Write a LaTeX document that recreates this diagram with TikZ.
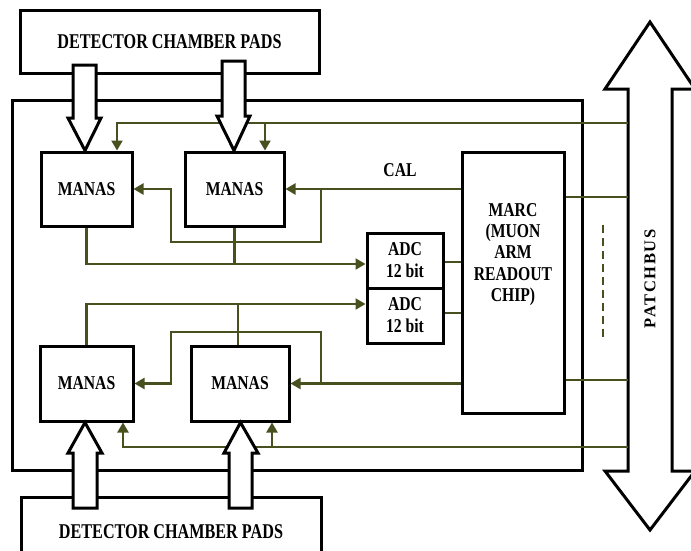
\documentclass[tikz,border=0pt]{standalone}
\usepackage{fontspec}
\setmainfont{Liberation Serif}
\newfontfamily\labfam[FakeStretch=0.8]{Liberation Serif}
\newfontfamily\detfam[FakeStretch=0.77]{Liberation Serif}
\newfontfamily\pbfam[LetterSpace=10]{Liberation Serif}
\usetikzlibrary{arrows.meta,calc}
\definecolor{sigc}{RGB}{72,80,32}
\tikzset{
  box/.style={draw=black, line width=3pt, inner sep=0pt, align=center,
    font=\labfam\bfseries\fontsize{19.6}{22}\selectfont},
  txt/.style={inner sep=0pt, align=center, font=\labfam\bfseries\fontsize{19.6}{21.3}\selectfont},
  sig/.style={draw=sigc, line width=2.2pt},
  sigarr/.style={sig, -{Triangle[length=10pt,width=11pt]}},
  fat/.style={draw=black, line width=3pt, fill=white, line join=miter},
}
\begin{document}
\begin{tikzpicture}[x=1pt,y=-1pt]
\useasboundingbox (0,0) rectangle (691,550);
\fill[white] (0,0) rectangle (691,550);

% main frame
\node[box, minimum width=570pt, minimum height=370pt] (frame) at (297,285) {};

% boxes
\node[box, minimum width=91pt, minimum height=74pt] (m1) at (86.5,189) {MANAS};
\node[box, minimum width=99pt, minimum height=74pt] (m2) at (234.5,189) {MANAS};
\node[box, minimum width=93pt, minimum height=75pt] (m3) at (86.5,383.5) {MANAS};
\node[box, minimum width=98pt, minimum height=75pt] (m4) at (240,383.5) {MANAS};
\node[box, minimum width=76pt, minimum height=55pt] (adc1) at (405,260.5) {ADC\\12 bit};
\node[box, minimum width=76pt, minimum height=55pt] (adc2) at (405,315.5) {ADC\\12 bit};
\node[box, minimum width=102pt, minimum height=261pt] (marc) at (513,282.5) {};
\node[txt] (marctxt) at (513,254.5) {MARC\\(MUON\\ARM\\READOUT\\CHIP)};
\node[txt] (cal) at (400,170.5) {CAL};

% patchbus
\coordinate (pbT) at (650,22);
\coordinate (pbB) at (650,530);
\draw[fat] (628,471) -- (628,89) -- (605,89) -- (pbT) -- (695,89) -- (672,89)
  -- (672,471) -- (695,471) -- (pbB) -- (605,471) -- cycle;
\node[rotate=90, inner sep=0pt, font=\pbfam\bfseries\fontsize{16.5}{18}\selectfont] (pb) at (650,279) {PATCHBUS};

% top bus
\coordinate (tb) at (628,123);
\coordinate (t1) at ($(m1.north)+(30.5,0)$);
\coordinate (t2) at ($(m2.north)+(30.5,0)$);
\draw[sigarr] (tb) -| (t1);
\draw[sigarr] (t2 |- tb) -- (t2);

% CAL lines
\coordinate (cj) at (321,189);
\coordinate (cl) at (171,242);
\draw[sigarr] (marc.west |- m2.east) -- (m2.east);
\draw[sigarr] (cj) |- (cl) |- (m1.east);

% MANAS outputs to ADC1
\coordinate (a1in) at ($(adc1.west)+(0,3.5)$);
\draw[sigarr] (m1.south) |- (a1in);
\draw[sig] (m2.south) -- (m2.south |- a1in);

% lower MANAS outputs to ADC2
\coordinate (a2in) at ($(adc2.west)+(0,-11.5)$);
\coordinate (m4t) at ($(m4.north)+(-2,0)$);
\draw[sigarr] (m3.north) |- (a2in);
\draw[sig] (m4t) -- (m4t |- a2in);

% lower CAL lines
\coordinate (lj) at (321,383.5);
\coordinate (ll) at (171,332);
\draw[sigarr] (marc.west |- m4.east) -- (m4.east);
\draw[sigarr] (lj) |- (ll) |- (m3.east);

% bottom bus
\coordinate (bb) at (628,447);
\coordinate (b1) at ($(m3.south)+(36.5,0)$);
\coordinate (b2) at ($(m4.south)+(32,0)$);
\draw[sigarr] (bb) -| (b1);
\draw[sigarr] (b2 |- bb) -- (b2);

% ADC to MARC
\draw[sig] ($(adc1.east)+(0,1.5)$) -- ($(adc1.east -| marc.west)+(0,1.5)$);
\draw[sig] ($(adc2.east)+(0,-2.5)$) -- ($(adc2.east -| marc.west)+(0,-2.5)$);

% MARC to patchbus
\coordinate (pr1) at (628,197);
\coordinate (pr2) at (628,380);
\draw[sig] (marc.east |- pr1) -- (pr1);
\draw[sig] (marc.east |- pr2) -- (pr2);
\draw[sig, dash pattern=on 8pt off 5pt] (603,225) -- (603,338);

% detector boxes
\node[box, minimum width=299pt, minimum height=63pt, font=\detfam\bfseries\fontsize{21}{24}\selectfont] (det1) at (169.5,41.5) {DETECTOR CHAMBER PADS};
\node[box, minimum width=300pt, minimum height=72pt, anchor=north, font=\detfam\bfseries\fontsize{21}{24}\selectfont, text depth=0pt] (det2) at (171,496) {};
\node[inner sep=0pt, font=\detfam\bfseries\fontsize{21}{24}\selectfont] (det2txt) at (171,532) {DETECTOR CHAMBER PADS};

% fat arrows
\draw[fat] (73,65) -- (96,65) -- (96,118) -- (101,118) -- (m1.north -| 85,0) -- (68,118) -- (73,118) -- cycle;
\draw[fat] (222,61) -- (245,61) -- (245,116) -- (250,116) -- (m2.north -| 234,0) -- (217,116) -- (222,116) -- cycle;
\draw[fat] (73,508) -- (97,508) -- (97,453) -- (102,453) -- (m3.south -| 85,0) -- (68,453) -- (73,453) -- cycle;
\draw[fat] (229,508) -- (252,508) -- (252,453) -- (258,453) -- (m4.south -| 240.5,0) -- (224,453) -- (229,453) -- cycle;
\end{tikzpicture}
\end{document}
